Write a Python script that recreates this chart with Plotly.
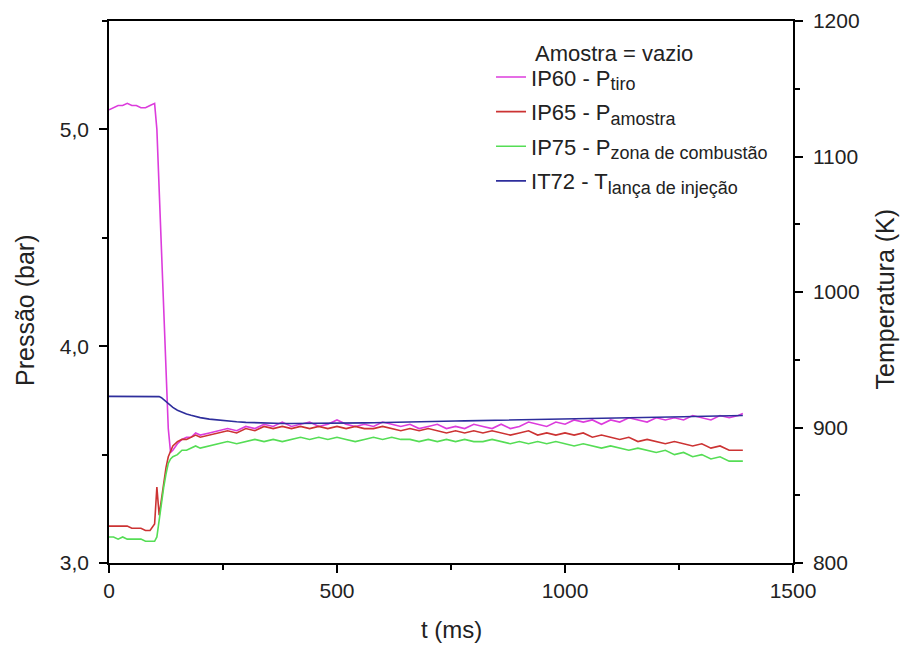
import plotly.graph_objects as go

# time axis (ms)
T_MS = [0, 10, 20, 30, 40, 50, 60, 70, 80, 90, 100, 105, 110, 115, 120, 125, 130, 135, 140, 150, 160, 170, 180, 190, 200,
        220, 240, 260, 280, 300, 320, 340, 360, 380, 400,
        420, 440, 460, 480, 500, 520, 540, 560, 580, 600,
        620, 640, 660, 680, 700, 720, 740, 760, 780, 800,
        820, 840, 860, 880, 900, 920, 940, 960, 980, 1000,
        1020, 1040, 1060, 1080, 1100, 1120, 1140, 1160, 1180, 1200,
        1220, 1240, 1260, 1280, 1300, 1320, 1340, 1360, 1380,
        1390]

# IP60 - P_tiro (bar)
P_TIRO = [5.09, 5.10, 5.11, 5.11, 5.12, 5.11, 5.11, 5.10, 5.10, 5.11, 5.12, 5.00, 4.73, 4.46, 4.18, 3.91, 3.62, 3.51, 3.52, 3.55, 3.57, 3.58, 3.58, 3.60, 3.59,
          3.60, 3.61, 3.62, 3.61, 3.63, 3.62, 3.64, 3.63, 3.65, 3.63,
          3.64, 3.65, 3.63, 3.64, 3.66, 3.64, 3.63, 3.64, 3.63, 3.65,
          3.64, 3.63, 3.64, 3.62, 3.63, 3.64, 3.62, 3.63, 3.62, 3.64,
          3.63, 3.62, 3.64, 3.62, 3.63, 3.65, 3.64, 3.63, 3.65, 3.64,
          3.66, 3.65, 3.66, 3.64, 3.66, 3.65, 3.67, 3.66, 3.65, 3.67,
          3.66, 3.67, 3.66, 3.68, 3.67, 3.66, 3.68, 3.67, 3.68,
          3.69]

# IP65 - P_amostra (bar)
P_AMOSTRA = [3.17, 3.17, 3.17, 3.17, 3.17, 3.16, 3.16, 3.16, 3.15, 3.15, 3.18, 3.35, 3.22, 3.30, 3.38, 3.44, 3.49, 3.52, 3.54, 3.56, 3.57, 3.57, 3.58, 3.59, 3.58,
             3.59, 3.60, 3.61, 3.60, 3.62, 3.61, 3.63, 3.62, 3.63, 3.62,
             3.63, 3.62, 3.63, 3.62, 3.63, 3.62, 3.63, 3.62, 3.62, 3.63,
             3.62, 3.61, 3.62, 3.61, 3.62, 3.61, 3.60, 3.61, 3.60, 3.61,
             3.60, 3.61, 3.60, 3.59, 3.60, 3.61, 3.59, 3.60, 3.59, 3.60,
             3.59, 3.60, 3.58, 3.59, 3.58, 3.57, 3.58, 3.56, 3.57, 3.56,
             3.55, 3.56, 3.55, 3.54, 3.55, 3.53, 3.54, 3.52, 3.52,
             3.52]

# IP75 - P_zona de combustão (bar)
P_ZONA = [3.12, 3.12, 3.11, 3.12, 3.11, 3.11, 3.11, 3.11, 3.10, 3.10, 3.10, 3.12, 3.20, 3.28, 3.35, 3.41, 3.46, 3.48, 3.49, 3.50, 3.52, 3.52, 3.53, 3.54, 3.53,
          3.54, 3.55, 3.56, 3.55, 3.56, 3.57, 3.56, 3.57, 3.56, 3.57,
          3.58, 3.57, 3.58, 3.57, 3.58, 3.57, 3.56, 3.57, 3.58, 3.57,
          3.58, 3.57, 3.57, 3.56, 3.57, 3.56, 3.57, 3.56, 3.57, 3.56,
          3.56, 3.57, 3.56, 3.55, 3.56, 3.55, 3.56, 3.55, 3.56, 3.55,
          3.54, 3.55, 3.54, 3.53, 3.54, 3.53, 3.52, 3.53, 3.52, 3.51,
          3.52, 3.50, 3.51, 3.49, 3.50, 3.48, 3.49, 3.47, 3.47,
          3.47]

# IT72 - T_lança de injeção (K)
T_LANCA = [923, 923, 923, 923, 923, 923, 923, 923, 923, 923, 923, 923, 922.8, 922, 920.5, 919, 917.5, 916, 914.8, 912.8, 911.2, 910, 909, 908, 907.3,
           906.2, 905.4, 904.7, 904.2, 903.8, 903.5, 903.3, 903.1, 903.0, 902.9,
           902.9, 902.9, 903.0, 903.0, 903.1, 903.2, 903.3, 903.4, 903.5, 903.7,
           903.8, 904.0, 904.1, 904.2, 904.4, 904.5, 904.6, 904.8, 904.9, 905.0,
           905.2, 905.3, 905.4, 905.6, 905.7, 905.8, 906.0, 906.1, 906.2, 906.3,
           906.5, 906.6, 906.7, 906.8, 906.9, 907.1, 907.2, 907.3, 907.4, 907.5,
           907.7, 907.8, 907.9, 908.1, 908.2, 908.3, 908.5, 908.6, 908.8,
           908.9]

SUB = "<sub><span style='font-size:18px'>{}</span></sub>"
NAMES = ["IP60 - P" + SUB.format("tiro"),
         "IP65 - P" + SUB.format("amostra"),
         "IP75 - P" + SUB.format("zona de combustão"),
         "IT72 - T" + SUB.format("lança de injeção")]
LEGEND_TITLE = "Amostra = vazio"
X_TITLE = "t (ms)"
Y_TITLE = "Pressão (bar)"
Y2_TITLE = "Temperatura (K)"
COLORS = ["#dc3cdc", "#cc3333", "#55dd55", "#2e2e9c"]

FONT = "Liberation Sans, Arial, sans-serif"
TXT = "#222222"

fig = go.Figure()
for i, (name, vals, col) in enumerate(zip(NAMES[:3], [P_TIRO, P_AMOSTRA, P_ZONA], COLORS[:3])):
    fig.add_trace(go.Scatter(x=T_MS, y=vals, mode="lines", name=name, legendgroup=f"g{i}",
                             line=dict(color=col, width=1.6)))
fig.add_trace(go.Scatter(x=T_MS, y=T_LANCA, mode="lines", name=NAMES[3], yaxis="y2", legendgroup="g3",
                         line=dict(color=COLORS[3], width=1.6)))

axis_common = dict(showline=True, linecolor="black", linewidth=1.5, ticks="outside",
                   ticklen=8, tickwidth=1.5, tickcolor="black", showgrid=False, zeroline=False,
                   tickfont=dict(size=21, color=TXT), automargin=False)
minor_common = dict(ticks="outside", ticklen=5, tickwidth=1.5, tickcolor="black")

fig.update_layout(
    width=900, height=646,
    margin=dict(l=109, r=107, t=21, b=83),
    paper_bgcolor="white", plot_bgcolor="white",
    separators=",.",
    font=dict(family=FONT, color=TXT),
    xaxis=dict(range=[0, 1500], tickvals=[0, 500, 1000, 1500], mirror=True,
               minor=dict(dtick=250, **minor_common),
               **axis_common),
    yaxis=dict(range=[3, 5.5], tickvals=[3, 4, 5], tickformat=".1f", ticklabelstandoff=6,
               minor=dict(dtick=0.5, **minor_common),
               **axis_common),
    yaxis2=dict(range=[800, 1200], tickvals=[800, 900, 1000, 1100, 1200], overlaying="y", side="right",
                ticklabelstandoff=6,
                minor=dict(dtick=50, **minor_common),
                **axis_common),
    legend=dict(x=0.5585, y=0.935, xanchor="left", yanchor="top", bgcolor="rgba(0,0,0,0)",
                font=dict(size=22, color=TXT), tracegroupgap=3),
    showlegend=True,
    annotations=[
        dict(text=LEGEND_TITLE, xref="paper", yref="paper", x=0.620, y=0.9405,
             xanchor="left", yanchor="middle", showarrow=False,
             font=dict(size=22, color=TXT)),
        dict(text=X_TITLE, xref="paper", yref="paper", x=0.5, y=-0.1236,
             xanchor="center", yanchor="middle", showarrow=False,
             font=dict(size=24, color=TXT)),
        dict(text=Y_TITLE, xref="paper", yref="paper", x=-0.1228, y=0.465,
             xanchor="center", yanchor="middle", textangle=-90, showarrow=False,
             font=dict(size=25, color=TXT)),
        dict(text=Y2_TITLE, xref="paper", yref="paper", x=1.1345, y=0.488,
             xanchor="center", yanchor="middle", textangle=-90, showarrow=False,
             font=dict(size=25, color=TXT)),
    ],
)

fig.write_html("out.html", config={"displayModeBar": False},
               post_script="document.body.style.margin='0';")
